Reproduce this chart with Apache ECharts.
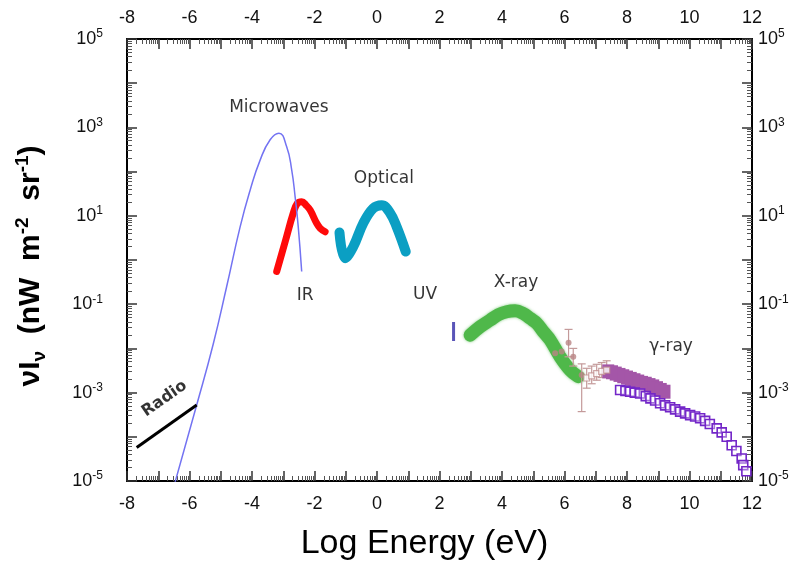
<!DOCTYPE html>
<html>
<head>
<meta charset="utf-8">
<script src="https://cdn.jsdelivr.net/npm/echarts@6/dist/echarts.min.js"></script>
<style>
  html, body { margin: 0; padding: 0; background: #fff; }
  #chart { width: 797px; height: 569px; }
</style>
</head>
<body>
<div id="chart"></div>
<script>
// Axis ranges: log10 photon energy (eV) and log10 of νIν (nW m^-2 sr^-1)
const xMin = -8, xMax = 12;
const yMin = -5, yMax = 5;

// Radio background
const radioLogE = [-7.69, -5.77];
const radioLogI = [-4.24, -3.28];

// Cosmic microwave background
const cmbLogE = [-6.55, -5.77, -5.24, -4.81, -4.38, -4.06, -3.74, -3.42, -3.14, -2.89, -2.73, -2.62, -2.52, -2.41];
const cmbLogI = [-5.25, -3.28, -1.90, -0.60, 0.75, 1.58, 2.26, 2.72, 2.87, 2.56, 2.04, 1.43, 0.75, -0.26];

// Infrared background
const irLogE = [-3.21, -2.94, -2.68, -2.55, -2.41, -2.27, -2.14, -1.93, -1.82, -1.66];
const irLogI = [-0.26, 0.41, 1.06, 1.28, 1.32, 1.24, 1.13, 0.83, 0.72, 0.64];

// Optical background
const optLogE = [-1.20, -1.02, -0.76, -0.44, -0.12, 0.15, 0.42, 0.63, 0.92];
const optLogI = [0.62, 0.04, 0.30, 0.83, 1.17, 1.24, 1.06, 0.75, 0.19];

// Ultraviolet limit
const uvLogE = [2.45, 2.45];
const uvLogI = [-1.40, -1.83];

// X-ray background
const xrayLogE = [2.98, 3.30, 3.62, 3.88, 4.15, 4.42, 4.68, 4.90, 5.11, 5.32, 5.54, 5.86, 6.18, 6.44];
const xrayLogI = [-1.70, -1.51, -1.36, -1.24, -1.17, -1.15, -1.21, -1.32, -1.43, -1.62, -1.81, -2.19, -2.49, -2.64];

// MeV gamma-ray points
const mevCircLogE = [5.70, 5.91, 6.13, 6.28, 6.55];
const mevCircLogI = [-2.11, -2.07, -1.87, -2.19, -2.60];
const mevSqLogE = [6.71, 6.87, 7.03, 7.19, 7.35];
const mevSqLogI = [-2.67, -2.62, -2.57, -2.52, -2.49];
const mevErrLogE = [6.13, 6.28, 6.55, 6.71, 6.87, 7.03, 7.19, 7.35];
const mevErrLo = [-2.19, -2.40, -3.43, -2.90, -2.80, -2.72, -2.66, -2.60];
const mevErrHi = [-1.57, -2.00, -2.35, -2.45, -2.40, -2.36, -2.32, -2.28];

// GeV gamma-ray band (filled squares)
const gevALogE = [7.40, 7.52, 7.64, 7.76, 7.88, 8.00, 8.12, 8.24, 8.36, 8.48, 8.60, 8.72, 8.84, 8.96, 9.08, 9.20];
const gevALogI = [-2.52, -2.54, -2.57, -2.60, -2.63, -2.66, -2.69, -2.72, -2.75, -2.78, -2.80, -2.83, -2.86, -2.90, -2.94, -2.98];

// GeV gamma-ray points (open squares)
const gevBLogE = [7.78, 7.95, 8.10, 8.25, 8.42, 8.60, 8.75, 8.90, 9.06, 9.22, 9.38, 9.54, 9.70, 9.86, 10.02, 10.18, 10.34, 10.50, 10.65, 10.87, 11.03, 11.19, 11.35, 11.50, 11.67, 11.72, 11.82];
const gevBLogI = [-2.94, -2.96, -2.98, -3.00, -3.02, -3.08, -3.13, -3.18, -3.24, -3.29, -3.33, -3.38, -3.43, -3.47, -3.51, -3.54, -3.58, -3.64, -3.71, -3.81, -3.90, -4.00, -4.19, -4.32, -4.49, -4.64, -4.78];

// Band names
const bandNames = ['Microwaves', 'Optical', 'IR', 'UV', 'X-ray', 'γ-ray', 'Radio'];
const bandLogE = [-3.14, 0.22, -2.30, 1.54, 4.45, 9.41, -6.80];
const bandLogI = [3.44, 1.85, -0.81, -0.79, -0.50, -1.97, -3.14];

const pairs = (xs, ys) => xs.map((x, i) => [x, ys[i]]);

// Logarithmic sub-ticks inside every unit of both axes
const logSubTicks = (lo, hi) => {
  const out = [];
  for (let n = lo; n < hi; n++) {
    for (let k = 2; k <= 9; k++) out.push(n + Math.log10(k));
  }
  return out;
};
const minorX = logSubTicks(xMin, xMax);
const minorY = logSubTicks(yMin, yMax);

const tickFont = 'Liberation Sans, Arial, sans-serif';

function mainX(position, margin) {
  return {
    type: 'value', min: xMin, max: xMax, interval: 1, position: position,
    axisLine: { show: true, onZero: false, lineStyle: { color: '#000', width: 2 } },
    axisTick: { show: true, inside: true, length: 10, lineStyle: { color: '#333', width: 1.5 } },
    axisLabel: {
      margin: margin, fontSize: 18, color: '#111', fontFamily: tickFont,
      formatter: v => (v % 2 === 0 ? String(v) : '')
    },
    splitLine: { show: false }
  };
}
function minorAxis(kind, position, values) {
  const lo = kind === 'x' ? xMin : yMin;
  const hi = kind === 'x' ? xMax : yMax;
  return {
    type: 'value', min: lo, max: hi, position: position,
    axisLine: { show: false, onZero: false },
    axisTick: { show: true, inside: true, length: 5, customValues: values, lineStyle: { color: '#555', width: 1 } },
    axisLabel: { show: false },
    splitLine: { show: false }
  };
}
function mainY(position, margin, withName) {
  const ax = {
    type: 'value', min: yMin, max: yMax, interval: 1, position: position,
    axisLine: { show: true, onZero: false, lineStyle: { color: '#000', width: 2 } },
    axisTick: { show: true, inside: true, length: 10, lineStyle: { color: '#333', width: 1.5 } },
    axisLabel: {
      margin: margin, color: '#111', fontFamily: tickFont,
      formatter: v => (Math.abs(v) % 2 === 1 ? '{b|10}{s|' + v + '}' : ''),
      rich: {
        b: { fontSize: 18, lineHeight: 22, fontFamily: tickFont, color: '#111' },
        s: { fontSize: 12, lineHeight: 12, verticalAlign: 'top', fontFamily: tickFont, color: '#111' }
      }
    },
    splitLine: { show: false }
  };
  if (withName) {
    ax.name = '{n|νI}{sub|ν}{n|  (nW  m}{sup|-2}{n|  sr}{sup|-1}{n|)}';
    ax.nameLocation = 'middle';
    ax.nameRotate = 90;
    ax.nameGap = 78;
    ax.nameTextStyle = {
      padding: [0, 12, 0, 0],
      rich: {
        n: { fontSize: 30, fontWeight: 'bold', lineHeight: 36, fontFamily: tickFont, color: '#000' },
        sub: { fontSize: 19, fontWeight: 'bold', lineHeight: 16, verticalAlign: 'bottom', fontFamily: tickFont, color: '#000' },
        sup: { fontSize: 19, fontWeight: 'bold', lineHeight: 18, verticalAlign: 'top', fontFamily: tickFont, color: '#000' }
      }
    };
  }
  return ax;
}

// Vertical error bars with short caps
function errorBar(params, api) {
  const x = api.value(0);
  const lo = api.coord([x, api.value(1)]);
  const hi = api.coord([x, api.value(2)]);
  const cap = 4;
  const st = { stroke: '#c49a9a', lineWidth: 1.2 };
  return {
    type: 'group',
    children: [
      { type: 'line', shape: { x1: lo[0], y1: lo[1], x2: hi[0], y2: hi[1] }, style: st },
      { type: 'line', shape: { x1: lo[0] - cap, y1: lo[1], x2: lo[0] + cap, y2: lo[1] }, style: st },
      { type: 'line', shape: { x1: hi[0] - cap, y1: hi[1], x2: hi[0] + cap, y2: hi[1] }, style: st }
    ]
  };
}

const chart = echarts.init(document.getElementById('chart'), null, { renderer: 'canvas' });
chart.setOption({
  animation: false,
  backgroundColor: '#fff',
  grid: { left: 127, right: 45, top: 39, bottom: 88 },
  xAxis: [
    Object.assign(mainX('bottom', 14), {
      name: 'Log Energy (eV)', nameLocation: 'middle', nameGap: 46,
      nameTextStyle: { fontSize: 34, color: '#000', fontFamily: tickFont, padding: [0, 30, 0, 0] }
    }),
    mainX('top', 12),
    minorAxis('x', 'bottom', minorX),
    minorAxis('x', 'top', minorX)
  ],
  yAxis: [
    mainY('left', 24, true),
    mainY('right', 6, false),
    minorAxis('y', 'left', minorY),
    minorAxis('y', 'right', minorY)
  ],
  series: [
    {
      type: 'line', data: pairs(cmbLogE, cmbLogI), smooth: 0.5, showSymbol: false,
      lineStyle: { color: '#7373f2', width: 1.5 }, z: 3
    },
    {
      type: 'line', data: pairs(radioLogE, radioLogI), showSymbol: false,
      lineStyle: { color: '#000', width: 3 }, z: 3
    },
    {
      type: 'line', data: pairs(irLogE, irLogI), smooth: 0.4, showSymbol: false,
      lineStyle: { color: '#ff0a0a', width: 7, cap: 'round', join: 'round' }, z: 2
    },
    {
      type: 'line', data: pairs(optLogE, optLogI), smooth: 0.4, showSymbol: false,
      lineStyle: { color: '#0b9fc3', width: 10, cap: 'round', join: 'round' }, z: 2
    },
    {
      type: 'line', data: pairs(uvLogE, uvLogI), showSymbol: false,
      lineStyle: { color: '#5a55b8', width: 3 }, z: 2
    },
    {
      type: 'line', data: pairs(xrayLogE, xrayLogI), smooth: 0.4, showSymbol: false,
      lineStyle: { color: '#4fb84a', width: 13, cap: 'round', join: 'round', shadowBlur: 3, shadowColor: 'rgba(79,184,74,0.7)' }, z: 2
    },
    {
      type: 'custom', renderItem: errorBar, z: 4,
      data: mevErrLogE.map((x, i) => [x, mevErrLo[i], mevErrHi[i]])
    },
    {
      type: 'scatter', data: pairs(mevCircLogE, mevCircLogI), symbol: 'circle', symbolSize: 6,
      itemStyle: { color: '#b98585' }, z: 5
    },
    {
      type: 'scatter', data: pairs(mevSqLogE, mevSqLogI), symbol: 'rect', symbolSize: 6,
      itemStyle: { color: '#fff', borderColor: '#c08f8f', borderWidth: 1.2 }, z: 5
    },
    {
      type: 'scatter', data: pairs(gevALogE, gevALogI), symbol: 'rect', symbolSize: [12, 14],
      itemStyle: { color: '#a456a8', opacity: 1 }, z: 4
    },
    {
      type: 'scatter', data: pairs(gevBLogE, gevBLogI), symbol: 'rect', symbolSize: 9,
      itemStyle: { color: 'rgba(255,255,255,0.35)', borderColor: '#7326c8', borderWidth: 1.6, opacity: 1 }, z: 5
    },
    {
      type: 'scatter', symbolSize: 1, itemStyle: { color: 'transparent' }, z: 6, silent: true,
      data: bandLogE.map((x, i) => ({
        value: [x, bandLogI[i]],
        label: bandNames[i] === 'Radio'
          ? { rotate: 35, fontWeight: 'bold', fontSize: 16 }
          : {}
      })),
      label: {
        show: true, position: 'inside', color: '#000', fontSize: 17,
        fontFamily: 'DejaVu Sans, sans-serif',
        formatter: p => bandNames[p.dataIndex]
      }
    }
  ]
});
</script>
</body>
</html>
